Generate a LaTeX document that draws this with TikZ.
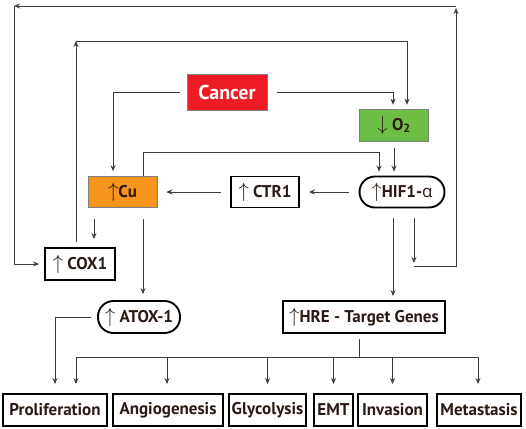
\documentclass[tikz,border=0pt]{standalone}
\usepackage{fontspec}
\setmainfont{PT Sans}
\newfontfamily\greekfont{Open Sans}
\usepackage{xcolor}
\usepackage{tikz}
\usetikzlibrary{arrows.meta}
\definecolor{ink}{HTML}{2B1A14}
\definecolor{wirec}{HTML}{3C3C3C}
\definecolor{cancerred}{HTML}{ED1C24}
\definecolor{leaf}{HTML}{6DBE45}
\definecolor{amber}{HTML}{F7941D}
\newcommand{\upa}{\scalebox{1.2}{$\uparrow$}}
\newcommand{\dna}{\scalebox{1.2}{$\downarrow$}}
\tikzset{
  box/.style={draw=black, line width=1.9pt, minimum height=31pt, inner sep=2pt, text=ink, font=\bfseries\fontsize{17}{19}\selectfont},
  pill/.style={box, rounded corners=15.5pt},
  fillbox/.style={box, draw=gray, line width=0.6pt},
  wire/.style={draw=wirec, line width=0.8pt},
  conn/.style={wire, shorten <=8pt, shorten >=5pt, -{Stealth[length=6pt,width=5pt]}},
}

\begin{document}
\begin{tikzpicture}[x=1pt,y=-1pt]
  \useasboundingbox (0,0) rectangle (526,428);
  % nodes
  \node[fillbox, fill=cancerred, text=white, minimum width=80pt, minimum height=36pt,
        font=\bfseries\fontsize{20}{22}\selectfont] (cancer) at (227,92) {Cancer};
  \node[fillbox, fill=leaf, minimum width=69pt, minimum height=32pt] (o2) at (394,125) {\dna\ O\textsubscript{2}};
  \node[pill, minimum width=85pt] (hif) at (402,192) {\upa HIF1-{\greekfont\mdseries α}};
  \node[box, minimum width=68pt] (ctr) at (265,192) {\upa\ CTR1};
  \node[fillbox, fill=amber, minimum width=69pt] (cu) at (122.5,192) {\upa Cu};
  \node[box, minimum width=70pt, minimum height=32pt] (cox) at (80,264) {\upa\ COX1};
  \node[pill, minimum width=82pt, minimum height=32pt] (atox) at (139,317) {\upa\ ATOX-1};
  \node[box, minimum width=162pt, minimum height=32pt] (hre) at (364,317) {\upa HRE - Target Genes};
  \foreach \name/\x/\w/\txt in {prolif/55/104/Proliferation, angio/168/110/Angiogenesis,
      glyco/267.5/77/Glycolysis, emt/333.5/39/EMT, inv/392.5/69/Invasion, meta/479/84/Metastasis}
    \node[box, minimum width=\w pt, minimum height=32pt] (\name) at (\x,410) {\txt};

  % bends
  \coordinate (tl) at (76,41);
  \coordinate (cb) at (143,152);
  \coordinate (rb) at (414,266);
  \coordinate (rt) at (456,6);
  \coordinate (lt) at (14,6);
  \coordinate (bus) at (359,357);

  % cancer
  \draw[conn, shorten <=7pt] (cancer.west) -| ([xshift=-9.5pt]cu.north);
  \draw[conn, shorten <=10pt, shorten >=4pt] (cancer.east) -| ([xshift=-1pt]o2.north);
  % loops
  \draw[conn, shorten <=5pt, shorten >=0pt] ([xshift=-4pt]cox.north) -- (tl);
  \draw[conn, shorten <=0pt, shorten >=4pt] (tl) -| ([xshift=13pt]o2.north);
  \draw[conn, shorten <=10pt, shorten >=3pt] (hif.south -| rb) -- (rb);
  \draw[conn, shorten <=0pt, shorten >=2pt] (rb) -| (rt);
  \draw[conn, shorten <=0pt, shorten >=0pt] (rt) -- (lt);
  \draw[conn, shorten <=0pt] (lt) |- (cox.west);
  \draw[conn, shorten <=0pt, shorten >=4pt] (cu.north -| cb) -- (cb) -| ([xshift=-23pt]hif.north);
  % main chain
  \draw[conn, shorten <=7pt, shorten >=4pt] (o2.south) -- (o2.south |- hif.north);
  \draw[conn, shorten <=9.5pt, shorten >=9pt] (hif.west) -- (ctr.east);
  \draw[conn, shorten <=9pt, shorten >=9pt] (ctr.west) -- (cu.east);
  \draw[conn, shorten <=11pt, shorten >=8pt] ([xshift=14pt]cox.north |- cu.south) -- ([xshift=14pt]cox.north);
  \draw[conn, shorten <=11pt, shorten >=6pt] (cu.south -| cb) -- (atox.north -| cb);
  \draw[conn, shorten <=6pt, shorten >=9pt] (atox.west) -| (prolif.north);
  \draw[conn, shorten <=10pt, shorten >=4pt] ([xshift=-9pt]hif.south) -- ([xshift=-9pt]hif.south |- hre.north);
  % outcomes
  \draw[wire, shorten <=5pt] (hre.south -| bus) -- (bus);
  \foreach \n/\dx in {prolif/21, angio/-1, glyco/0, emt/0, inv/0, meta/-1}
    \draw[conn, shorten <=0pt, shorten >=9pt] (bus) -| ([xshift=\dx pt]\n.north);
\end{tikzpicture}
\end{document}
